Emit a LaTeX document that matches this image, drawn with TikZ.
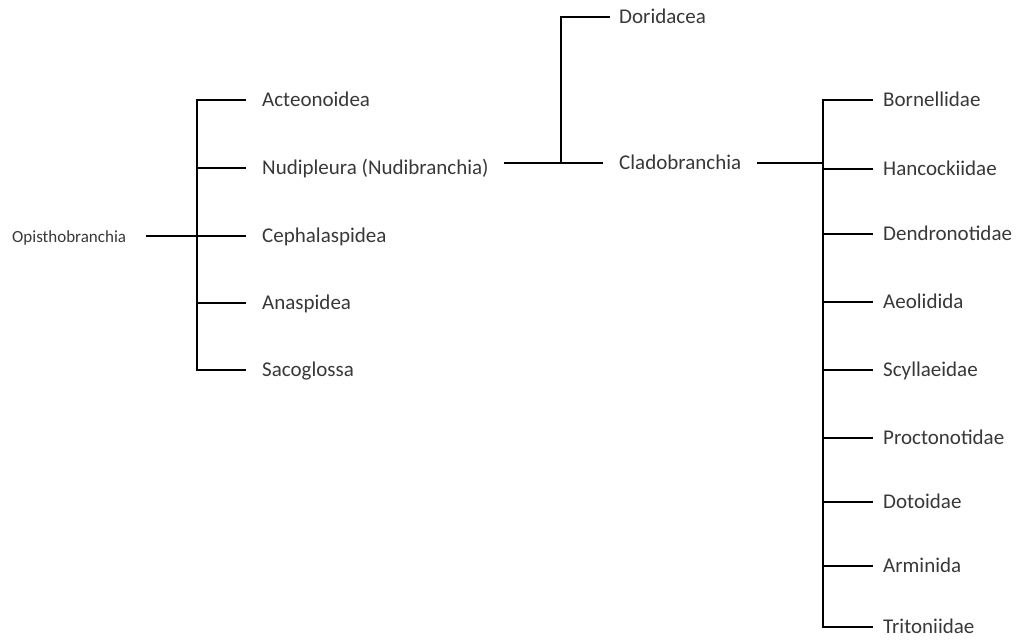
\documentclass[tikz,border=0pt]{standalone}
\usepackage{fontspec}
\setmainfont{Carlito}
\tikzset{
  branch/.style={line width=2.8pt, line cap=rect, black},
  taxon/.style={anchor=west, inner ysep=0pt, inner xsep=17pt, text=black!78,
    font=\fontsize{21}{24}\selectfont, text height=13.5pt, text depth=1pt},
  family/.style={taxon, inner xsep=11pt},
  root/.style={anchor=west, inner sep=0pt, text=black!78,
    font=\fontsize{17}{20}\selectfont, text height=11pt, text depth=1pt}
}
\begin{document}
\begin{tikzpicture}[x=1pt, y=-1pt]
    \useasboundingbox (0,0) rectangle (1016,640);
    % Opisthobranchia
    \node[root] (opi) at (12,237) {Opisthobranchia};
    \coordinate (lj) at (197,236);
    \node[taxon] (act) at (245,100) {Acteonoidea};
    \node[taxon] (nud) at (245,168) {Nudipleura (Nudibranchia)};
    \node[taxon] (cep) at (245,236) {Cephalaspidea};
    \node[taxon] (ana) at (245,303) {Anaspidea};
    \node[taxon] (sac) at (245,370) {Sacoglossa};
    \draw[branch] ([xshift=21pt]opi.east |- lj) -- (lj);
    \draw[branch] (act.west) -| (lj) |- (sac.west);
    \draw[branch] (nud.west) -- (nud.west -| lj);
    \draw[branch] (cep.west) -- (lj);
    \draw[branch] (ana.west) -- (ana.west -| lj);
    % Nudipleura
    \coordinate (mj) at (561,163);
    \node[taxon, inner xsep=10pt] (dor) at (609,17) {Doridacea};
    \node[taxon] (cla) at (602,163) {Cladobranchia};
    \draw[branch] (nud.east |- mj) -- (cla.west);
    \draw[branch] (dor.west) -| (mj);
    % Cladobranchia
    \coordinate (rj) at (823,163);
    \node[family] (bor) at (872,100) {Bornellidae};
    \node[family] (han) at (872,169) {Hancockiidae};
    \node[family] (den) at (872,234) {Dendronotidae};
    \node[family] (aeo) at (872,302) {Aeolidida};
    \node[family] (scy) at (872,370) {Scyllaeidae};
    \node[family] (pro) at (872,438) {Proctonotidae};
    \node[family] (dot) at (872,502) {Dotoidae};
    \node[family] (arm) at (872,566) {Arminida};
    \node[family] (tri) at (872,627) {Tritoniidae};
    \draw[branch] (cla.east) -- (rj);
    \draw[branch] (bor.west) -| (rj) |- (tri.west);
    \draw[branch] (han.west) -- (han.west -| rj);
    \draw[branch] (den.west) -- (den.west -| rj);
    \draw[branch] (aeo.west) -- (aeo.west -| rj);
    \draw[branch] (scy.west) -- (scy.west -| rj);
    \draw[branch] (pro.west) -- (pro.west -| rj);
    \draw[branch] (dot.west) -- (dot.west -| rj);
    \draw[branch] (arm.west) -- (arm.west -| rj);
\end{tikzpicture}
\end{document}
